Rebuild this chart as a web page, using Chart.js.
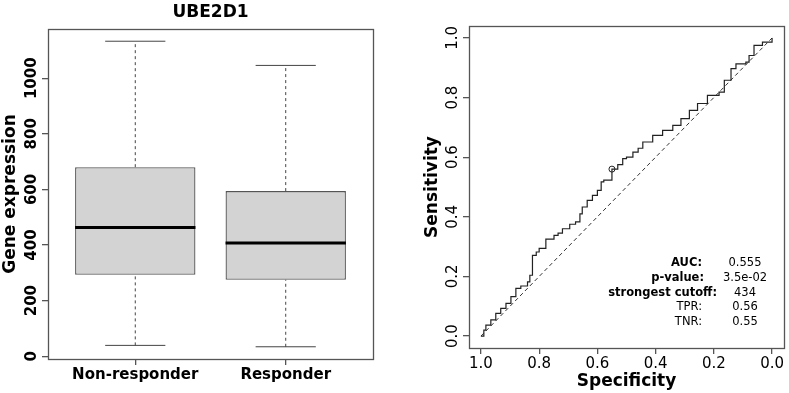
<!DOCTYPE html>
<html>
<head>
<meta charset="utf-8">
<script src="https://cdn.jsdelivr.net/npm/chart.js@4/dist/chart.umd.min.js"></script>
<style>
  html, body { margin: 0; padding: 0; background: #fff; }
  #wrap { position: relative; width: 789px; height: 393px; overflow: hidden; }
  #leftBox { position: absolute; left: 0; top: 0; width: 400px; height: 393px; }
  #rightBox { position: absolute; left: 400px; top: 0; width: 389px; height: 393px; }
</style>
</head>
<body>
<div id="wrap">
  <div id="leftBox"><canvas id="boxChart" width="400" height="393"></canvas></div>
  <div id="rightBox"><canvas id="rocChart" width="389" height="393"></canvas></div>
</div>
<script>
// ---------------- data: boxplot ----------------
const categories = ['Non-responder', 'Responder'];
const whiskerLow = [39, 34];
const q1 = [293, 275];
const median = [463, 407];
const q3 = [680, 594];
const whiskerHigh = [1133, 1046];
const boxYTicks = [0, 200, 400, 600, 800, 1000];
const boxTitle = 'UBE2D1';
const boxYTitle = 'Gene expression';

// ---------------- data: ROC ----------------
const specificity = [1.0, 0.99, 0.983, 0.966, 0.949, 0.932, 0.914, 0.897, 0.88, 0.863, 0.84, 0.832, 0.823, 0.823, 0.81, 0.80, 0.777, 0.749, 0.735, 0.72, 0.695, 0.675, 0.66, 0.652, 0.635, 0.617, 0.60, 0.587, 0.578, 0.55, 0.53, 0.513, 0.50, 0.478, 0.46, 0.444, 0.41, 0.376, 0.341, 0.313, 0.284, 0.256, 0.222, 0.182, 0.164, 0.141, 0.124, 0.09, 0.079, 0.062, 0.033, 0.0];
const sensitivity = [0.0, 0.02, 0.037, 0.054, 0.076, 0.093, 0.11, 0.132, 0.16, 0.168, 0.182, 0.204, 0.227, 0.271, 0.282, 0.294, 0.325, 0.338, 0.345, 0.36, 0.375, 0.383, 0.41, 0.433, 0.455, 0.472, 0.489, 0.517, 0.523, 0.56, 0.575, 0.595, 0.60, 0.617, 0.63, 0.651, 0.673, 0.69, 0.707, 0.729, 0.757, 0.78, 0.807, 0.818, 0.858, 0.897, 0.913, 0.919, 0.941, 0.975, 0.986, 1.0];
const rocTicks = [0, 0.2, 0.4, 0.6, 0.8, 1.0];
const cutoffSpecificity = 0.55;
const cutoffSensitivity = 0.56;
const statLabels = ['AUC:', 'p-value:', 'strongest cutoff:', 'TPR:', 'TNR:'];
const statValues = ['0.555', '3.5e-02', '434', '0.56', '0.55'];
const rocXTitle = 'Specificity';
const rocYTitle = 'Sensitivity';

const FONT = '"DejaVu Sans", "Liberation Sans", sans-serif';
const FRAME = '#555555';

// ================= LEFT: boxplot =================
const boxDatasets = [];
categories.forEach((c, i) => {
  const x = i + 1;
  boxDatasets.push({ type: 'line', data: [{x: x - 0.4, y: median[i]}, {x: x + 0.4, y: median[i]}],
    borderColor: '#000', borderWidth: 3, pointRadius: 0, fill: false, order: 0 });
  boxDatasets.push({ type: 'line', data: [{x: x, y: q3[i]}, {x: x, y: whiskerHigh[i]}],
    borderColor: '#444', borderWidth: 1, borderDash: [3, 3], pointRadius: 0, fill: false, order: 1 });
  boxDatasets.push({ type: 'line', data: [{x: x, y: whiskerLow[i]}, {x: x, y: q1[i]}],
    borderColor: '#444', borderWidth: 1, borderDash: [3, 3], pointRadius: 0, fill: false, order: 1 });
  boxDatasets.push({ type: 'line', data: [{x: x - 0.2, y: whiskerHigh[i]}, {x: x + 0.2, y: whiskerHigh[i]}],
    borderColor: '#444', borderWidth: 1, pointRadius: 0, fill: false, order: 1 });
  boxDatasets.push({ type: 'line', data: [{x: x - 0.2, y: whiskerLow[i]}, {x: x + 0.2, y: whiskerLow[i]}],
    borderColor: '#444', borderWidth: 1, pointRadius: 0, fill: false, order: 1 });
});
boxDatasets.push({
  type: 'bar',
  data: categories.map((c, i) => ({x: i + 1, y: [q1[i], q3[i]]})),
  backgroundColor: '#d3d3d3', borderColor: FRAME, borderWidth: 1.3, borderSkipped: false,
  barPercentage: 1.0, categoryPercentage: 0.8, order: 5
});

const leftDecor = {
  id: 'leftDecor',
  afterDraw(chart) {
    const {ctx, chartArea: a, scales: {y}} = chart;
    ctx.save();
    ctx.strokeStyle = FRAME; ctx.lineWidth = 1.3;
    ctx.strokeRect(a.left + 0.5, a.top + 0.5, a.right - a.left, a.bottom - a.top);
    ctx.fillStyle = '#000';
    ctx.textAlign = 'center'; ctx.textBaseline = 'middle';
    ctx.font = 'bold 15px ' + FONT;
    y.ticks.forEach(t => {
      const py = y.getPixelForValue(t.value);
      ctx.save(); ctx.translate(32, py); ctx.rotate(-Math.PI / 2);
      ctx.fillText(String(t.value), 0, 0); ctx.restore();
    });
    ctx.font = 'bold 17px ' + FONT;
    ctx.save(); ctx.translate(11, (a.top + a.bottom) / 2); ctx.rotate(-Math.PI / 2);
    ctx.fillText(boxYTitle, 0, 0); ctx.restore();
    ctx.fillText(boxTitle, (a.left + a.right) / 2, 13);
    ctx.restore();
  }
};

new Chart(document.getElementById('boxChart'), {
  type: 'bar',
  data: { datasets: boxDatasets },
  options: {
    responsive: false, animation: false, devicePixelRatio: 1,
    layout: { padding: { left: 0, right: 27, top: 29, bottom: 0 } },
    plugins: { legend: { display: false }, tooltip: { enabled: false }, title: { display: false } },
    scales: {
      x: {
        type: 'linear', min: 0.42, max: 2.58, offset: false,
        afterBuildTicks: s => { s.ticks = categories.map((c, i) => ({value: i + 1})); },
        afterFit: s => { s.height = 34; },
        ticks: { callback: v => categories[Math.round(v) - 1], color: '#000',
                 font: { family: FONT, size: 15, weight: 'bold' }, padding: 1, maxRotation: 0, autoSkip: false },
        grid: { offset: false, drawOnChartArea: false, drawTicks: true, tickLength: 6, color: FRAME, lineWidth: 1.3 },
        border: { display: false }
      },
      y: {
        type: 'linear', min: -10, max: 1177,
        afterBuildTicks: s => { s.ticks = boxYTicks.map(v => ({value: v})); },
        afterFit: s => { s.width = 48; },
        ticks: { display: false },
        grid: { offset: false, drawOnChartArea: false, drawTicks: true, tickLength: 6, color: FRAME, lineWidth: 1.3 },
        border: { display: false }
      }
    }
  },
  plugins: [leftDecor]
});

// ================= RIGHT: ROC =================
const rightDecor = {
  id: 'rightDecor',
  afterDraw(chart) {
    const {ctx, chartArea: a, scales: {y}} = chart;
    ctx.save();
    ctx.strokeStyle = FRAME; ctx.lineWidth = 1.3;
    ctx.strokeRect(a.left + 0.5, a.top + 0.5, a.right - a.left, a.bottom - a.top);
    ctx.fillStyle = '#000';
    ctx.textAlign = 'center'; ctx.textBaseline = 'middle';
    ctx.font = '15px ' + FONT;
    y.ticks.forEach(t => {
      const py = y.getPixelForValue(t.value);
      ctx.save(); ctx.translate(53, py); ctx.rotate(-Math.PI / 2);
      ctx.fillText(t.value.toFixed(1), 0, 0); ctx.restore();
    });
    ctx.font = 'bold 17px ' + FONT;
    ctx.save(); ctx.translate(33, (a.top + a.bottom) / 2); ctx.rotate(-Math.PI / 2);
    ctx.fillText(rocYTitle, 0, 0); ctx.restore();
    ctx.fillText(rocXTitle, (a.left + a.right) / 2, 382);
    // statistics block
    const labelRight = [302, 304, 317, 302, 302];
    const bold = [true, true, true, false, false];
    statLabels.forEach((lab, i) => {
      const yy = 263 + i * 14.8;
      ctx.textAlign = 'right';
      ctx.font = (bold[i] ? 'bold ' : '') + '11.5px ' + FONT;
      ctx.fillText(lab, labelRight[i], yy);
      ctx.textAlign = 'center';
      ctx.font = '11.5px ' + FONT;
      ctx.fillText(statValues[i], 345, yy);
    });
    ctx.restore();
  }
};

new Chart(document.getElementById('rocChart'), {
  type: 'line',
  data: {
    datasets: [
      { data: [{x: cutoffSpecificity, y: cutoffSensitivity}], showLine: false, pointRadius: 3,
        pointStyle: 'circle', pointBackgroundColor: 'rgba(0,0,0,0)', pointBorderColor: '#222', pointBorderWidth: 1 },
      { data: specificity.map((s, i) => ({x: s, y: sensitivity[i]})), stepped: 'before',
        borderColor: '#222', borderWidth: 1.2, pointRadius: 0, fill: false },
      { data: [{x: 1, y: 0}, {x: 0, y: 1}], borderColor: '#333', borderWidth: 1, borderDash: [4, 3],
        pointRadius: 0, fill: false }
    ]
  },
  options: {
    responsive: false, animation: false, devicePixelRatio: 1,
    layout: { padding: { left: 0, right: 4, top: 26, bottom: 0 } },
    plugins: { legend: { display: false }, tooltip: { enabled: false }, title: { display: false } },
    scales: {
      x: {
        type: 'linear', reverse: true, min: -0.041, max: 1.041,
        afterBuildTicks: s => { s.ticks = rocTicks.map(v => ({value: v})); },
        afterFit: s => { s.height = 45; },
        ticks: { callback: v => Number(v).toFixed(1), color: '#000',
                 font: { family: FONT, size: 15 }, padding: 1, maxRotation: 0, autoSkip: false },
        grid: { offset: false, drawOnChartArea: false, drawTicks: true, tickLength: 6, color: FRAME, lineWidth: 1.3 },
        border: { display: false }
      },
      y: {
        type: 'linear', min: -0.04, max: 1.04,
        afterBuildTicks: s => { s.ticks = rocTicks.map(v => ({value: v})); },
        afterFit: s => { s.width = 69; },
        ticks: { display: false },
        grid: { offset: false, drawOnChartArea: false, drawTicks: true, tickLength: 6, color: FRAME, lineWidth: 1.3 },
        border: { display: false }
      }
    }
  },
  plugins: [rightDecor]
});
</script>
</body>
</html>
